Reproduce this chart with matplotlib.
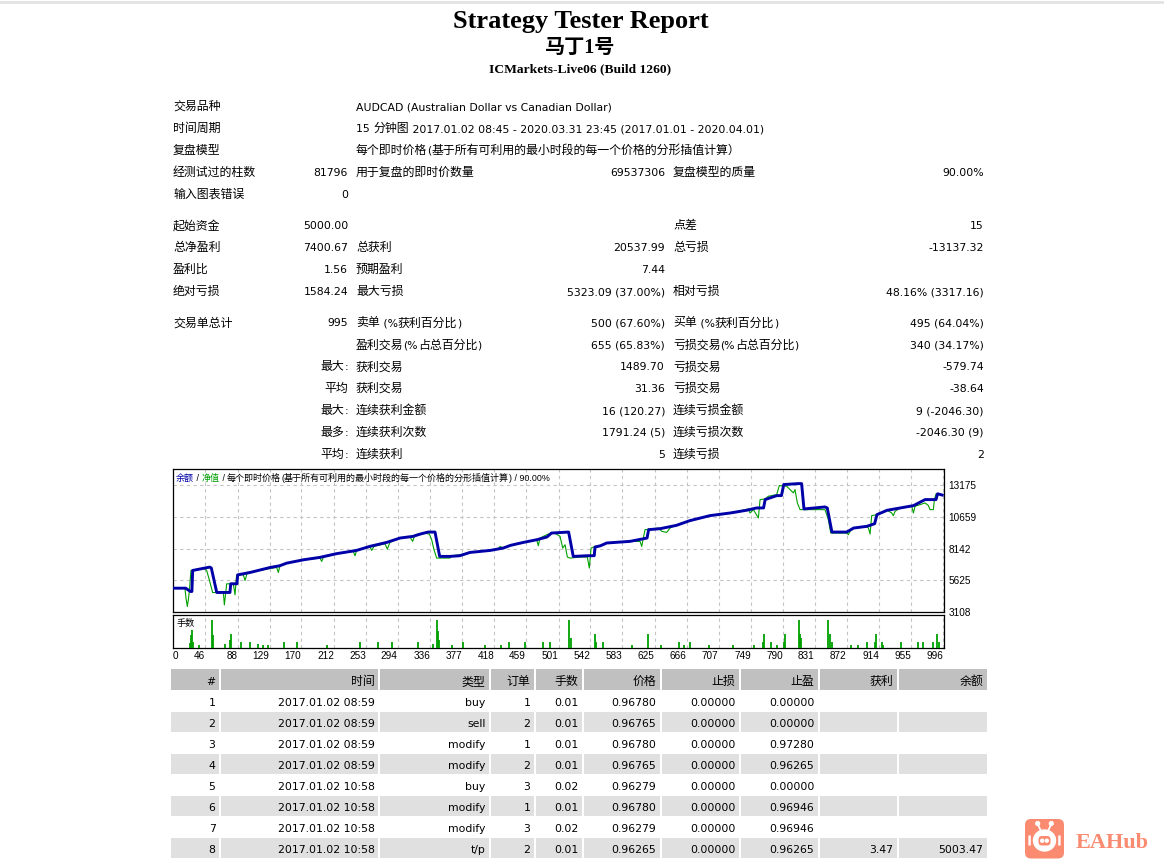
import matplotlib
matplotlib.use("Agg")
import matplotlib.pyplot as plt
from matplotlib.patches import Rectangle, FancyBboxPatch, Ellipse, Circle

plt.rcParams['font.family'] = ['DejaVu Sans', 'Noto Sans CJK SC']

# ---------------- data ----------------
title = "Strategy Tester Report"
ea_name = "马丁1号"
server = "ICMarkets-Live06 (Build 1260)"

info_rows = [
    ("交易品种", "", "AUDCAD (Australian Dollar vs Canadian Dollar)", "", "", ""),
    ("时间周期", "", "15 分钟图 2017.01.02 08:45 - 2020.03.31 23:45 (2017.01.01 - 2020.04.01)", "", "", ""),
    ("复盘模型", "", "每个即时价格(基于所有可利用的最小时段的每一个价格的分形插值计算）", "", "", ""),
    ("经测试过的柱数", "81796", "用于复盘的即时价数量", "69537306", "复盘模型的质量", "90.00%"),
    ("输入图表错误", "0", "", "", "", ""),
]
money_rows = [
    ("起始资金", "5000.00", "", "", "点差", "15"),
    ("总净盈利", "7400.67", "总获利", "20537.99", "总亏损", "-13137.32"),
    ("盈利比", "1.56", "预期盈利", "7.44", "", ""),
    ("绝对亏损", "1584.24", "最大亏损", "5323.09 (37.00%)", "相对亏损", "48.16% (3317.16)"),
]
trade_rows = [
    ("交易单总计", "995", "卖单 (%获利百分比)", "500 (67.60%)", "买单 (%获利百分比)", "495 (64.04%)"),
    ("", "", "盈利交易(%占总百分比)", "655 (65.83%)", "亏损交易(%占总百分比)", "340 (34.17%)"),
    ("", "最大:", "获利交易", "1489.70", "亏损交易", "-579.74"),
    ("", "平均", "获利交易", "31.36", "亏损交易", "-38.64"),
    ("", "最大:", "连续获利金额", "16 (120.27)", "连续亏损金额", "9 (-2046.30)"),
    ("", "最多:", "连续获利次数", "1791.24 (5)", "连续亏损次数", "-2046.30 (9)"),
    ("", "平均:", "连续获利", "5", "连续亏损", "2"),
]

# balance curve (trade #, balance)
balance_pts = [
    (5, 5000), (21, 5000), (27, 4740), (29, 4740), (30, 6410), (52, 6675), (54, 6600),
    (61, 4660), (78, 4660), (79, 5350), (87, 5350), (88, 6060), (104, 6250), (130, 6650),
    (142, 6780), (151, 6990), (173, 7260), (194, 7450), (215, 7740), (241, 8000), (258, 8320),
    (280, 8640), (297, 8985), (314, 9120), (323, 9300), (333, 9460), (342, 9460), (348, 7525),
    (361, 7525), (374, 7580), (387, 7840), (413, 8000), (430, 8190), (439, 8400), (456, 8640),
    (473, 8850), (486, 9065), (492, 9380), (514, 9460), (520, 7525), (539, 7580), (547, 7580),
    (548, 8270), (555, 8370), (563, 8590), (593, 8720), (615, 8985), (617, 9650), (632, 9730),
    (653, 9995), (670, 10365), (696, 10765), (722, 10975), (743, 11190), (756, 11375),
    (765, 11375), (767, 12040), (782, 12355), (788, 12355), (791, 13235), (810, 13310),
    (814, 13310), (817, 11295), (844, 11455), (847, 11375), (853, 9460), (872, 9460),
    (881, 9780), (898, 9915), (908, 10125), (911, 10845), (924, 11190), (941, 11375),
    (958, 11560), (973, 12040), (987, 12040), (989, 12500), (995, 12400),
]
# equity curve (trade #, equity)
equity_pts = [
    (5, 5000), (20, 5000), (21.4, 4206), (23.1, 3540), (24.4, 4073), (25.7, 4737), (27.8, 6410),
    (43.7, 6595), (48, 6410), (51.4, 5666), (55.7, 4657), (69.5, 4657), (70.8, 3675),
    (72.5, 4657), (73.8, 5347), (82.4, 5347), (84.5, 4471), (86.6, 6064), (95.2, 6064),
    (97.4, 5613), (100.4, 6250), (138.1, 6649), (140.3, 6250), (142.4, 6781), (151, 6994),
    (173, 7260), (194, 7392), (196.1, 7126), (198.2, 7445), (215, 7740), (236.8, 7923),
    (239, 7578), (241.1, 8003), (258.3, 8268), (260.5, 8003), (263.5, 8321), (277.6, 8534),
    (280.6, 8109), (284, 8640), (297, 8985), (309.8, 9065), (313.2, 8719), (316.2, 9250),
    (327, 9383), (334.7, 9303), (337.7, 8852), (340.7, 8056), (344.1, 7392), (361.3, 7392),
    (363.4, 7578), (374.2, 7658), (387.1, 7843), (413, 8000), (423.5, 8109), (425.7, 8321),
    (430, 8188), (439, 8400), (456, 8640), (472.9, 8852), (475, 8374), (477.2, 8985),
    (485.8, 9250), (494.4, 9436), (503, 9118), (506.4, 8188), (509.4, 8454), (512.4, 7472),
    (515.8, 7392), (528.7, 7472), (538.1, 7472), (540.7, 6595), (542.9, 8188), (548, 8321),
    (555, 8370), (563, 8590), (593, 8720), (606, 8719), (608.1, 8321), (610.2, 8985),
    (612.4, 9649), (629.6, 9781), (633.9, 9516), (640.3, 9436), (644.6, 9781), (653.2, 10047),
    (670.3, 10365), (696, 10765), (722, 10975), (745.4, 11295), (747.6, 10976), (751.9, 11242),
    (758.3, 10578), (760.5, 12038), (766.9, 12091), (771.2, 12304), (781.9, 12437),
    (785.3, 13153), (794.8, 13100), (799.1, 12835), (803.4, 12569), (805.5, 12835),
    (808.5, 11773), (812, 11242), (844.1, 11242), (848.4, 10445), (851.5, 9383), (872, 9383),
    (874.2, 9250), (876.3, 9516), (881, 9780), (897.8, 9861), (900, 9781), (902.1, 9303),
    (904.2, 10764), (910.7, 10843), (924, 11190), (930, 10976), (932.1, 10764), (934.3, 11109),
    (941, 11375), (955.7, 11507), (957.9, 10976), (960, 11507), (973, 11773), (977.2, 11560),
    (979.3, 11242), (983.6, 11242), (984.9, 12038), (987.1, 12500), (995, 12400),
]
# lots per trade (trade #, lots)
lots_pts = [
    (26.6, 0.04), (28.3, 0.10), (29.6, 0.14), (30.8, 0.05), (38.6, 0.02), (55.3, 0.22),
    (56.6, 0.10), (71.6, 0.03), (78.1, 0.06), (79.8, 0.11), (92.2, 0.05), (103.8, 0.05),
    (114.5, 0.03), (121, 0.02), (127.4, 0.02), (148, 0.05), (164.7, 0.05), (202.5, 0.02),
    (245.4, 0.05), (269, 0.05), (287, 0.05), (320.5, 0.05), (339.8, 0.03), (344.1, 0.22),
    (345.4, 0.13), (346.7, 0.06), (363.5, 0.02), (377.6, 0.05), (406.4, 0.02), (427, 0.02),
    (437.7, 0.05), (458, 0.05), (480.6, 0.05), (490, 0.05), (515, 0.22), (516.7, 0.08),
    (548, 0.11), (549.3, 0.05), (557.9, 0.05), (595.2, 0.02), (616.7, 0.11), (633, 0.02),
    (656.6, 0.05), (663, 0.02), (670.3, 0.05), (695.2, 0.02), (725.3, 0.02), (752.7, 0.02),
    (763.9, 0.05), (765.6, 0.11), (774.2, 0.05), (781.9, 0.02), (791.4, 0.05), (792.6, 0.11),
    (810.7, 0.22), (812, 0.11), (813.2, 0.08), (848.4, 0.22), (850.6, 0.11), (852.7, 0.05),
    (877.2, 0.02), (887.1, 0.02), (898.6, 0.05), (908.5, 0.05), (909.8, 0.11), (917.1, 0.05),
    (919.3, 0.02), (942, 0.05), (964.3, 0.05), (970.7, 0.05), (983.6, 0.05), (988.8, 0.11),
    (991.3, 0.05),
]
x_tick_vals = [46, 88, 129, 170, 212, 253, 294, 336, 377, 418, 459, 501, 542, 583, 625,
               666, 707, 749, 790, 831, 872, 914, 955, 996]
x_first_label = "0"
y_tick_vals = [3108, 5625, 8142, 10659, 13175]
chart_legend = [("余额", 'bal'), (" / ", 'k'), ("净值", 'eq'),
                (" / 每个即时价格(基于所有可利用的最小时段的每一个价格的分形插值计算) / 90.00%", 'k')]
lots_label = "手数"

tbl_header = ['#', '时间', '类型', '订单', '手数', '价格', '止损', '止盈', '获利', '余额']
tbl_num = ['1', '2', '3', '4', '5', '6', '7', '8']
tbl_time = ['2017.01.02 08:59'] * 4 + ['2017.01.02 10:58'] * 4
tbl_type = ['buy', 'sell', 'modify', 'modify', 'buy', 'modify', 'modify', 't/p']
tbl_order = ['1', '2', '1', '2', '3', '1', '3', '2']
tbl_lots = ['0.01', '0.01', '0.01', '0.01', '0.02', '0.01', '0.02', '0.01']
tbl_price = ['0.96780', '0.96765', '0.96780', '0.96765', '0.96279', '0.96780', '0.96279', '0.96265']
tbl_sl = ['0.00000'] * 8
tbl_tp = ['0.00000', '0.00000', '0.97280', '0.96265', '0.00000', '0.96946', '0.96946', '0.96265']
tbl_profit = [''] * 7 + ['3.47']
tbl_balance = [''] * 7 + ['5003.47']
logo_text = "EAHub"

# ---------------- styles / layout ----------------
W, H = 1164, 865
BAL_C = '#0000a8'
EQ_C = '#00a000'
LOGO_C = '#fa8a70'
LAT_FONT = 'DejaVu Sans'
CJK_FONT = 'Noto Sans CJK SC'
TICK_FONT = 'Liberation Sans'

fig = plt.figure(figsize=(W / 100, H / 100), dpi=100)
fig.patch.set_facecolor('white')

XL = (4.67, 997.3)

# main equity chart
ax = fig.add_axes([173 / W, 1 - 612 / H, 771 / W, 143 / H])
bt, bv = zip(*balance_pts)
et, ev = zip(*equity_pts)
ax.plot(et, ev, color=EQ_C, lw=0.8, zorder=3)
ax.plot(bt, bv, color=BAL_C, lw=2.1, zorder=4)
ax.set_xlim(*XL)
ax.set_ylim(3108, 14470)
ax.set_xticks(x_tick_vals)
ax.set_xticklabels([])
ax.yaxis.tick_right()
ax.set_yticks(y_tick_vals)
ax.set_yticklabels([str(v) for v in y_tick_vals], family=TICK_FONT, fontsize=7.2)
ax.tick_params(axis='x', length=0)
ax.tick_params(axis='y', length=0, pad=3)
ax.grid(True, color='#c4c4c4', ls=(0, (3, 3)), lw=0.8)
ax.set_axisbelow(True)
for s in ax.spines.values():
    s.set_linewidth(0.9)
    s.set_color('black')

# lots panel
vx = fig.add_axes([173 / W, 1 - 648 / H, 771 / W, 33.5 / H])
lt, lv = zip(*lots_pts)
vx.vlines(lt, 0, lv, color=EQ_C, lw=1.3, zorder=3)
vx.set_xlim(*XL)
vx.set_ylim(0, 0.26)
vx.set_yticks([])
vx.set_xticks([XL[0]] + x_tick_vals)
vx.set_xticklabels([x_first_label] + [str(v) for v in x_tick_vals],
                   family=TICK_FONT, fontsize=7.2)
for i, lab in enumerate(vx.get_xticklabels()):
    lab.set_ha('left' if i == 0 else 'right')
vx.tick_params(axis='x', length=0, pad=2.2)
vx.grid(True, axis='x', color='#c4c4c4', ls=(0, (3, 3)), lw=0.8)
vx.set_axisbelow(True)
for s in vx.spines.values():
    s.set_linewidth(0.9)
    s.set_color('black')

# overlay axes for text / table (pixel coords, y downward)
ov = fig.add_axes([0, 0, 1, 1], zorder=10)
ov.set_xlim(0, W)
ov.set_ylim(H, 0)
ov.axis('off')
ov.patch.set_alpha(0)

renderer = fig.canvas.get_renderer()
_zero = {}


def is_cjk(ch):
    return ord(ch) >= 0x2E80


def split_runs(s):
    runs = []
    for ch in s:
        c = is_cjk(ch)
        if runs and runs[-1][1] == c:
            runs[-1][0] += ch
        else:
            runs.append([ch, c])
    return runs


def text_w(txt, **kw):
    key = (str(kw.get('family')), kw.get('fontsize'))
    if key not in _zero:
        t = ov.text(0, 0, '||', **kw)
        _zero[key] = t.get_window_extent(renderer).width
        t.remove()
    t = ov.text(0, 0, '|' + txt + '|', **kw)
    w = t.get_window_extent(renderer).width
    t.remove()
    return w - _zero[key]


def mixed(x, y, s, ha='left', lat=7.8, cjk=8.6, color='black', colors=None,
          lat_font=LAT_FONT):
    """Draw a string with CJK runs in the CJK font and Latin runs in the Latin font."""
    if not s:
        return
    segs = colors if colors is not None else [(s, color)]
    pieces = []
    for seg, col in segs:
        for txt, c in split_runs(seg):
            pieces.append((txt, c, col))
    widths, kws = [], []
    for txt, c, col in pieces:
        kw = dict(family=CJK_FONT if c else lat_font, fontsize=cjk if c else lat)
        widths.append(text_w(txt, **kw))
        kws.append(kw)
    total = sum(widths)
    cx = x if ha == 'left' else x - total
    for (txt, c, col), w, kw in zip(pieces, widths, kws):
        ov.text(cx, y, txt, ha='left', va='baseline', color=col, **kw)
        cx += w


# top browser line
ov.axhline(2, color='#e3e3e3', lw=2)

# titles
ov.text(580.5, 28, title, family='Liberation Serif', weight='bold', fontsize=19,
        ha='center', va='baseline')
ov.text(580.5, 53, ea_name, family=['Liberation Serif', 'Noto Sans CJK SC'], weight='bold',
        fontsize=14.5, ha='center', va='baseline')
ov.text(580.5, 72.5, server, family='Liberation Serif', weight='bold', fontsize=9.7,
        ha='center', va='baseline')

# stats block
col_x = [(173, 'left'), (348, 'right'), (356, 'left'), (665, 'right'), (673, 'left'), (984, 'right')]
group_start = [105.7, 225.0, 322.0]
ROW_H = 21.9
for g, rows in enumerate([info_rows, money_rows, trade_rows]):
    for r, row in enumerate(rows):
        yb = group_start[g] + r * ROW_H + 4.4
        for (cx, ha), s in zip(col_x, row):
            mixed(cx, yb, s, ha=ha)

# chart legend and lots label
leg_cols = {'bal': BAL_C, 'eq': EQ_C, 'k': 'black'}
mixed(176, 481, "".join(p for p, _ in chart_legend), ha='left', lat=6.4, cjk=6.5,
      colors=[(p, leg_cols[c]) for p, c in chart_legend], lat_font=TICK_FONT)
mixed(177, 626, lots_label, ha='left', lat=6.4, cjk=6.6)

# trades table
edges = [170, 220, 379, 490, 535, 583, 661, 740, 819, 898, 988]
columns = [tbl_num, tbl_time, tbl_type, tbl_order, tbl_lots, tbl_price, tbl_sl, tbl_tp,
           tbl_profit, tbl_balance]
for j in range(len(edges) - 1):
    ov.add_patch(Rectangle((edges[j] + 1, 669), edges[j + 1] - edges[j] - 2, 20.5,
                           facecolor='#c0c0c0', edgecolor='none'))
    mixed(edges[j + 1] - 4.5, 684.6, tbl_header[j], ha='right')
for i in range(len(tbl_num)):
    top = 690.5 + 21 * i
    for j in range(len(edges) - 1):
        if i % 2 == 1:
            ov.add_patch(Rectangle((edges[j] + 1, top), edges[j + 1] - edges[j] - 2, 20,
                                   facecolor='#e0e0e0', edgecolor='none'))
        mixed(edges[j + 1] - 4.5, top + 15.5, columns[j][i], ha='right')

# EAHub logo
ov.add_patch(FancyBboxPatch((1029, 823), 31, 31.5, boxstyle='round,pad=4,rounding_size=6',
                            facecolor=LOGO_C, edgecolor='none'))
ov.plot([1040.5, 1037.7], [830, 824], color='white', lw=1.3, solid_capstyle='round')
ov.plot([1048.5, 1051.3], [830, 824], color='white', lw=1.3, solid_capstyle='round')
ov.add_patch(Circle((1037.7, 823.5), 1.9, color='white'))
ov.add_patch(Circle((1051.3, 823.5), 1.9, color='white'))
ov.add_patch(Ellipse((1044.5, 840.5), 22, 21, color='white'))
ov.add_patch(FancyBboxPatch((1040, 837.5), 9, 6.5, boxstyle='round,pad=1.5,rounding_size=3.5',
                            facecolor=LOGO_C, edgecolor='none'))
ov.add_patch(Circle((1042.2, 840.7), 1.5, color='white'))
ov.add_patch(Circle((1046.8, 840.7), 1.5, color='white'))
ov.add_patch(FancyBboxPatch((1029, 836), 1.2, 9, boxstyle='round,pad=0.6', facecolor='white',
                            edgecolor='none'))
ov.add_patch(FancyBboxPatch((1058.8, 836), 1.2, 9, boxstyle='round,pad=0.6', facecolor='white',
                            edgecolor='none'))
ov.text(1076, 847.5, logo_text, family='Liberation Serif', weight='bold', fontsize=16,
        color=LOGO_C, ha='left', va='baseline')

fig.savefig('out.png', dpi=100)
